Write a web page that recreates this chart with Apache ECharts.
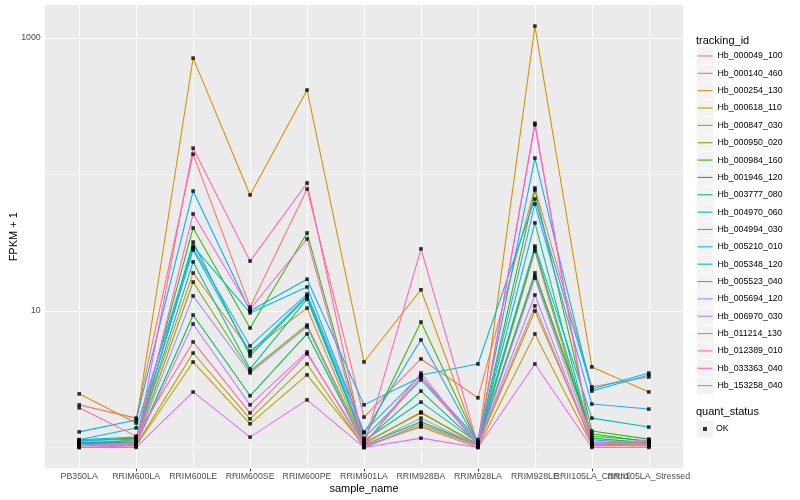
<!DOCTYPE html>
<html><head><meta charset="utf-8">
<script src="https://cdn.jsdelivr.net/npm/echarts@6/dist/echarts.min.js"></script>
<style>html,body{margin:0;padding:0;background:#fff}#c{width:800px;height:500px}</style>
</head><body><div id="c"></div>
<script>
// ---- data ----
const samples = ['PB350LA','RRIM600LA','RRIM600LE','RRIM600SE','RRIM600PE','RRIM901LA','RRIM928BA','RRIM928LA','RRIM928LE','RRII105LA_Control','RRII105LA_Stressed'];
const trackingIds = ['Hb_000049_100','Hb_000140_460','Hb_000254_130','Hb_000618_110','Hb_000847_030','Hb_000950_020','Hb_000984_160','Hb_001946_120','Hb_003777_080','Hb_004970_060','Hb_004994_030','Hb_005210_010','Hb_005348_120','Hb_005523_040','Hb_005694_120','Hb_006970_030','Hb_011214_130','Hb_012389_010','Hb_033363_040','Hb_153258_040'];
// FPKM + 1, in sample order
const Hb_000049_100 = [2.05, 1.64, 141, 10.7, 78.3, 1.67, 4.45, 2.31, 79.7, 2.78, 3.28];
const Hb_000140_460 = [1.06, 1.14, 19.0, 5.09, 10.5, 1.06, 1.82, 1.03, 27.5, 1.06, 1.04];
const Hb_000254_130 = [2.47, 1.51, 713, 70.8, 416, 4.23, 14.3, 1.04, 1224, 3.89, 2.55];
const Hb_000618_110 = [1.04, 1.03, 4.23, 1.49, 3.40, 1.03, 1.41, 1.00, 6.79, 1.04, 1.03];
const Hb_000847_030 = [1.03, 1.04, 4.92, 1.62, 4.09, 1.00, 1.49, 1.03, 10.0, 1.10, 1.06];
const Hb_000950_020 = [1.10, 1.08, 16.3, 3.63, 7.89, 1.08, 1.79, 1.06, 18.0, 1.21, 1.12];
const Hb_000984_160 = [1.12, 1.17, 40.6, 7.50, 37.3, 1.14, 8.30, 1.08, 76.9, 1.32, 1.15];
const Hb_001946_120 = [1.08, 1.06, 9.35, 2.39, 6.79, 1.04, 1.54, 1.04, 19.0, 1.26, 1.10];
const Hb_003777_080 = [1.06, 1.10, 32.0, 4.68, 12.7, 1.10, 2.59, 1.06, 28.9, 1.17, 1.08];
const Hb_004970_060 = [1.08, 1.12, 22.9, 3.76, 12.2, 1.12, 2.15, 1.08, 44.2, 1.14, 1.06];
const Hb_004994_030 = [1.14, 1.19, 28.0, 4.92, 12.9, 1.17, 3.12, 1.10, 29.9, 1.64, 1.41];
const Hb_005210_010 = [1.14, 1.39, 29.9, 9.67, 15.0, 1.30, 3.40, 4.09, 66.2, 2.68, 3.51];
const Hb_005348_120 = [1.30, 1.59, 75.7, 10.0, 17.1, 2.05, 3.28, 1.14, 132, 2.59, 3.40];
const Hb_005523_040 = [1.12, 1.15, 28.9, 5.54, 13.3, 1.28, 6.14, 1.06, 60.8, 2.08, 1.91];
const Hb_005694_120 = [1.04, 1.08, 12.9, 3.51, 7.64, 1.03, 1.64, 1.03, 13.1, 1.04, 1.14];
const Hb_006970_030 = [1.03, 1.06, 8.03, 2.05, 5.01, 1.00, 1.44, 1.03, 17.4, 1.08, 1.12];
const Hb_011214_130 = [1.00, 1.00, 2.55, 1.19, 2.23, 1.00, 1.17, 1.00, 4.09, 1.00, 1.00];
const Hb_012389_010 = [1.03, 1.04, 51.4, 10.3, 33.7, 1.04, 3.51, 1.04, 231, 1.03, 1.03];
const Hb_033363_040 = [1.00, 1.03, 156, 23.2, 86.7, 1.03, 28.5, 1.03, 238, 1.03, 1.04];
const Hb_153258_040 = [1.95, 1.21, 5.93, 1.79, 4.84, 1.06, 3.28, 1.04, 10.9, 1.06, 1.08];
const seriesValues = [Hb_000049_100,Hb_000140_460,Hb_000254_130,Hb_000618_110,Hb_000847_030,Hb_000950_020,Hb_000984_160,Hb_001946_120,Hb_003777_080,Hb_004970_060,Hb_004994_030,Hb_005210_010,Hb_005348_120,Hb_005523_040,Hb_005694_120,Hb_006970_030,Hb_011214_130,Hb_012389_010,Hb_033363_040,Hb_153258_040];
const quantStatus = ['OK'];
const yMajorTicks = [10, 1000];
const yMinorTicks = [1, 100];

// ---- styles ----
const colors = ['#F8766D','#EA8331','#D89000','#C09B00','#A3A500','#7CAE00','#39B600','#00BB4E','#00BF7D','#00C1A3','#00BFC4','#00BAE0','#00B0F6','#35A2FF','#9590FF','#C77CFF','#E76BF3','#FA62DB','#FF62BC','#FF6A98'];
const FONT = '"Liberation Sans", Arial, Helvetica, sans-serif';
const lg = v => Math.log10(v);

const allLog = seriesValues.flat().map(lg);
const lo = Math.min(...allLog), hi = Math.max(...allLog), pad = 0.05 * (hi - lo);
const yMin = lo - pad, yMax = hi + pad;
const xIdx = samples.map((s, i) => i);
const xEven = xIdx.filter(i => i % 2 === 0);
const xOdd = xIdx.filter(i => i % 2 === 1);

const PANEL = {left: 45, top: 5, width: 638, height: 463.5};

const gridMarks = []
  .concat(xIdx.map(i => ({xAxis: i, lineStyle: {color: '#FFFFFF', width: 1.07, type: 'solid'}})))
  .concat(yMajorTicks.map(v => ({yAxis: lg(v), lineStyle: {color: '#FFFFFF', width: 1.07, type: 'solid'}})))
  .concat(yMinorTicks.map(v => ({yAxis: lg(v), lineStyle: {color: '#FFFFFF', width: 0.53, type: 'solid'}})));

const series = trackingIds.map((id, k) => ({
  type: 'line', name: id, xAxisIndex: 0, yAxisIndex: 0,
  data: seriesValues[k].map((v, i) => [i, lg(v)]),
  showSymbol: false, symbol: 'none',
  lineStyle: {width: 1.07, color: colors[k]},
  itemStyle: {color: colors[k]},
  z: 2, animation: false, silent: true
}));
series[0].markLine = {silent: true, symbol: 'none', z: 1, animation: false, label: {show: false}, data: gridMarks};

const points = [];
seriesValues.forEach(arr => arr.forEach((v, i) => points.push([i, lg(v)])));
series.push({type: 'scatter', name: quantStatus[0], data: points, symbol: 'rect', symbolSize: 3.6,
  itemStyle: {color: '#000000'}, z: 3, animation: false, silent: true});

// legend key backgrounds
const ITEM_H = 17.35, LEG_TOP = 47.3;
const graphics = [];
trackingIds.forEach((id, i) => graphics.push({type: 'rect', silent: true, z: 0,
  shape: {x: 697, y: LEG_TOP + i * ITEM_H + 0.35, width: 16.3, height: ITEM_H - 0.7}, style: {fill: '#F2F2F2'}}));
graphics.push({type: 'rect', silent: true, z: 0, shape: {x: 697, y: 420.7, width: 16.3, height: 16.6}, style: {fill: '#F2F2F2'}});
graphics.push({type: 'text', silent: true, z: 1, x: 696, y: 40.7,
  style: {text: 'tracking_id', fontSize: 11, fontFamily: FONT, fill: '#000', verticalAlign: 'middle'}});
graphics.push({type: 'text', silent: true, z: 1, x: 696, y: 412,
  style: {text: 'quant_status', fontSize: 11, fontFamily: FONT, fill: '#000', verticalAlign: 'middle'}});

function makeXAxis(values, withName) {
  const ax = {
    type: 'value', min: -0.6, max: samples.length - 1 + 0.6, position: 'bottom', offset: 0,
    axisLine: {show: false}, splitLine: {show: false},
    axisTick: {show: true, customValues: values, length: 2.75, lineStyle: {color: '#333333', width: 1.07}},
    axisLabel: {customValues: values, formatter: v => samples[Math.round(v)], fontSize: 8.8, color: '#4D4D4D',
      fontFamily: FONT, margin: 4, hideOverlap: false, showMinLabel: true, showMaxLabel: true}
  };
  if (withName) {
    ax.name = 'sample_name'; ax.nameLocation = 'middle'; ax.nameGap = 14.5; ax.nameMoveOverlap = false;
    ax.nameTextStyle = {fontSize: 11, color: '#000', fontFamily: FONT};
  }
  return ax;
}

const chart = echarts.init(document.getElementById('c'), null, {renderer: 'canvas'});
chart.setOption({
  animation: false,
  backgroundColor: '#FFFFFF',
  textStyle: {fontFamily: FONT},
  grid: {left: PANEL.left, top: PANEL.top, width: PANEL.width, height: PANEL.height,
    show: true, backgroundColor: '#EBEBEB', borderWidth: 0, containLabel: false, outerBoundsMode: 'none'},
  xAxis: [makeXAxis(xEven, true), makeXAxis(xOdd, false)],
  yAxis: {
    type: 'value', min: yMin, max: yMax,
    axisLine: {show: false}, splitLine: {show: false},
    axisTick: {show: true, customValues: yMajorTicks.map(lg), length: 2.75, lineStyle: {color: '#333333', width: 1.07}},
    axisLabel: {customValues: yMajorTicks.map(lg), formatter: v => String(Math.round(Math.pow(10, v))),
      fontSize: 8.8, color: '#4D4D4D', fontFamily: FONT, margin: 4.3, showMinLabel: true, showMaxLabel: true},
    name: 'FPKM + 1', nameLocation: 'middle', nameGap: 26, nameRotate: 90, nameMoveOverlap: false,
    nameTextStyle: {fontSize: 11, color: '#000', fontFamily: FONT}
  },
  legend: [
    {data: trackingIds, orient: 'vertical', left: 697.5, top: LEG_TOP, padding: 0, itemGap: 0,
      itemWidth: 15, itemHeight: 1.1, icon: 'rect', selectedMode: false,
      textStyle: {fontSize: 8.8, color: '#000', fontFamily: FONT, lineHeight: ITEM_H}},
    {data: quantStatus, orient: 'vertical', left: 703, top: 420.7, padding: 0, itemGap: 0,
      itemWidth: 4, itemHeight: 4, icon: 'rect', selectedMode: false,
      textStyle: {fontSize: 8.8, color: '#000', fontFamily: FONT, lineHeight: 16.6, padding: [0, 0, 0, 4]}}
  ],
  graphic: graphics,
  series: series
});
</script></body></html>
